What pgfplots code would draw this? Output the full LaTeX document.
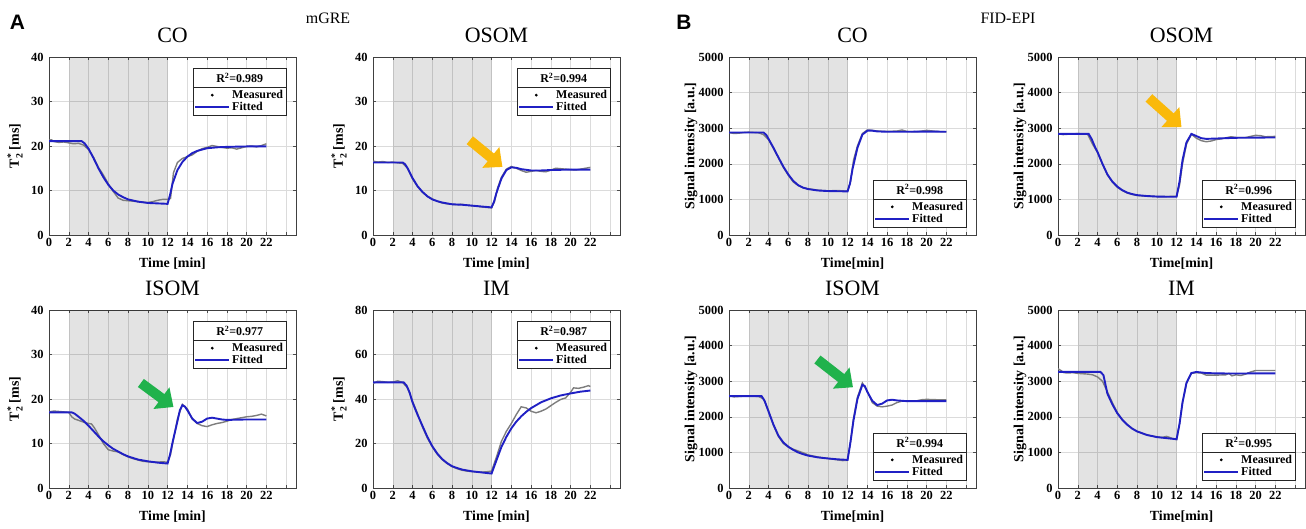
\documentclass[border=0pt]{standalone}
\usepackage{pgfplots}
\pgfplotsset{compat=1.18}
\usepackage{fontspec}
\usepackage{amsmath}
\setmainfont{Liberation Serif}
\newfontfamily\panelfont{Liberation Sans}
\usetikzlibrary{calc,arrows.meta}

\definecolor{fitblue}{RGB}{32,32,196}
\definecolor{measgray}{RGB}{125,125,125}
\definecolor{arrorange}{RGB}{250,185,10}
\definecolor{arrgreen}{RGB}{32,178,76}

\pgfplotsset{
  panel/.style={
    scale only axis, width=247bp, height=178bp,
    xmin=0, xmax=25, ymin=0,
    xtick={0,2,...,24},
    xticklabels={0,2,4,6,8,10,12,14,16,18,20,22,{}},
    grid=major, major grid style={line width=0.5bp, color=black!14},
    tick align=inside, major tick length=3bp,
    tick style={line width=0.5bp, color=black!70},
    axis line style={line width=0.7bp, color=black!75},
    tick label style={font=\bfseries\fontsize{12.5}{12.5}\selectfont},
    yticklabel style={xshift=-2bp},
    /pgf/number format/assume math mode=true,
    /pgf/number format/1000 sep={},
    scaled y ticks=false,
    label style={font=\bfseries\fontsize{14}{14}\selectfont},
    xlabel style={at={(axis description cs:0.5,0)}, anchor=center, yshift=-29bp},
    title style={font=\fontsize{22}{22}\selectfont, at={(axis description cs:0.5,1)}, anchor=base, yshift=9bp},
    legend cell align=left,
    legend style={draw=black!85, line width=0.6bp, fill=white,
      font=\bfseries\fontsize{12}{12}\selectfont, inner sep=1bp, outer sep=0pt, row sep=-1.5bp},
  },
  mgre/.style={panel, ymax=40, ytick={0,10,...,40}, xlabel={Time [min]},
    ylabel={T$_{\text{2}}^{\text{*}}$ [ms]},
    ylabel style={at={(axis description cs:-0.138,0.5)}, anchor=center}},
  fid/.style={panel, ymax=5000, ytick={0,1000,...,5000}, xlabel={Time[min]},
    ylabel={Signal intensity [a.u.]},
    ylabel style={at={(axis description cs:-0.154,0.5)}, anchor=center}},
  legtop/.style={legend style={at={(axis description cs:0.96,0.83)}, anchor=north east, name=#1}},
  legbot/.style={legend style={at={(axis description cs:0.96,0.045)}, anchor=south east, name=#1}},
  meas/.style={color=measgray, line width=1.4bp, forget plot},
  fit/.style={color=fitblue, line width=1.9bp,
    legend image code/.code={\draw[fitblue, line width=1.9bp] (0bp,0bp) -- (34bp,0bp);}},
  shade/.style={draw=none, fill=black, fill opacity=0.11, forget plot},
}

\newcommand\measlegend{\addlegendimage{legend image code/.code={\fill[black] (17bp,0bp) circle (1.1bp);}}\addlegendentry{Measured}}
\newcommand\rbox[2]{\path let \p1=($(#1.north east)-(#1.north west)$) in
  node[draw=black!85, line width=0.6bp, fill=white, anchor=south west, minimum width=\x1,
    minimum height=19bp, inner sep=0pt, outer sep=0pt,
    font=\bfseries\fontsize{12}{12}\selectfont] at (#1.north west) {R\textsuperscript{2}=#2};}

\begin{document}
\begin{tikzpicture}
\useasboundingbox (0,0) rectangle (1306bp,-529bp);

% ---------- A: mGRE ----------
\begin{axis}[mgre, legtop=L1, at={(49bp,-57bp)}, anchor=north west, title={CO}]
\addplot[shade] coordinates {(2,40) (12,40)} \closedcycle;
\addplot[meas] coordinates {(0,21.3)(0.25,21.4)(0.5,21.0)(1,20.8)(1.5,20.9)(2,20.7)(2.5,20.5)(3,20.6)(3.5,20.2)(4,19.2)(4.5,17.5)(5,15.2)(5.5,13.5)(6,11.5)(6.5,9.8)(7,8.3)(7.5,7.8)(8,7.7)(8.5,7.6)(9,7.5)(9.5,7.4)(10,7.3)(10.5,7.5)(11,7.8)(11.5,8.0)(12,8.0)(12.3,8.2)(12.6,14.0)(13,16.3)(13.5,17.2)(14,17.6)(14.5,18.0)(15,18.8)(15.5,19.4)(16,19.7)(16.5,20.1)(17,19.9)(17.5,19.7)(18,19.5)(18.5,19.6)(19,19.3)(19.5,19.6)(20,19.9)(20.5,20.0)(21,19.8)(21.5,20.1)(22,20.5)};
\measlegend
\addplot[fit] coordinates {(0,21.1)(3.3,21.1)(3.6,20.6)(4,19.4)(4.5,17.3)(5,15.0)(5.5,13.0)(6,11.3)(6.5,10.0)(7,9.1)(7.5,8.5)(8,8.0)(9,7.5)(10,7.2)(11,7.1)(12,7.0)(12.25,9.0)(12.5,11.5)(13,14.6)(13.5,16.4)(14,17.6)(14.5,18.4)(15,18.9)(16,19.5)(17,19.7)(18,19.8)(20,19.9)(22,19.9)};
\addlegendentry{Fitted}
\end{axis}
\rbox{L1}{0.989}

\begin{axis}[mgre, legtop=L2, at={(373bp,-57bp)}, anchor=north west, title={OSOM}]
\addplot[shade] coordinates {(2,40) (12,40)} \closedcycle;
\addplot[meas] coordinates {(0,16.6)(0.5,16.4)(1,16.5)(1.5,16.3)(2,16.4)(2.5,16.2)(3,16.1)(3.5,15.0)(4,12.6)(4.5,10.9)(5,9.6)(5.5,8.7)(6,8.1)(6.5,7.6)(7,7.2)(7.5,7.0)(8,6.9)(8.5,6.8)(9,6.9)(9.5,6.7)(10,6.6)(10.5,6.5)(11,6.3)(11.5,6.2)(12,6.1)(12.3,7.5)(12.6,10.5)(13,13.0)(13.5,14.8)(14,15.4)(14.5,15.0)(15,14.5)(15.5,14.1)(16,14.3)(16.5,14.5)(17,14.3)(17.5,14.2)(18,14.6)(18.5,15.0)(19,14.9)(19.5,14.8)(20,14.7)(20.5,14.6)(21,14.8)(21.5,15.0)(22,15.2)};
\measlegend
\addplot[fit] coordinates {(0,16.3)(3.0,16.3)(3.25,15.9)(3.5,15.0)(4,12.8)(4.5,11.0)(5,9.7)(5.5,8.7)(6,8.0)(6.5,7.6)(7,7.3)(8,6.9)(9,6.8)(10,6.6)(11,6.4)(12,6.2)(12.25,7.5)(12.5,9.5)(13,12.7)(13.5,14.6)(14,15.2)(14.5,15.1)(15,14.8)(16,14.5)(17,14.5)(18,14.6)(20,14.7)(22,14.7)};
\addlegendentry{Fitted}
\draw[arrorange, line width=10bp, -{Triangle[length=15bp, width=26bp]}] (axis cs:9.8,21.3) -- (axis cs:13.1,15.3);
\end{axis}
\rbox{L2}{0.994}

\begin{axis}[mgre, legtop=L3, at={(49bp,-310bp)}, anchor=north west, title={ISOM}]
\addplot[shade] coordinates {(2,40) (12,40)} \closedcycle;
\addplot[meas] coordinates {(0,17.1)(0.5,17.3)(1,17.2)(1.5,17.1)(2,17.0)(2.3,16.0)(2.6,15.5)(3,15.2)(3.5,14.8)(4,14.5)(4.3,14.4)(4.6,13.5)(5,12.0)(5.5,10.0)(6,8.6)(6.5,8.3)(7,8.1)(7.5,7.5)(8,7.0)(8.5,6.6)(9,6.3)(9.5,6.0)(10,5.9)(10.5,5.8)(11,5.8)(11.5,5.9)(12,5.8)(12.3,7.5)(12.6,11.0)(13,15.5)(13.5,18.8)(14,17.8)(14.5,15.5)(15,14.5)(15.5,14.0)(16,13.8)(16.5,14.2)(17,14.5)(17.5,14.7)(18,15.0)(18.5,15.4)(19,15.6)(19.5,15.8)(20,16.0)(20.5,16.1)(21,16.3)(21.5,16.6)(22,16.2)};
\measlegend
\addplot[fit] coordinates {(0,17.0)(2.3,17.0)(2.6,16.7)(3,16.0)(3.5,15.1)(4,14.0)(4.5,12.8)(5,11.6)(5.5,10.5)(6,9.6)(6.5,8.8)(7,8.2)(7.5,7.6)(8,7.1)(9,6.4)(10,6.0)(11,5.7)(12,5.5)(12.25,7.5)(12.5,10.2)(13,15.0)(13.25,17.5)(13.5,18.6)(13.75,18.3)(14,17.5)(14.5,15.6)(15,14.6)(15.5,14.9)(16,15.6)(16.5,15.8)(17,15.6)(17.5,15.4)(18,15.3)(20,15.4)(22,15.4)};
\addlegendentry{Fitted}
\draw[arrgreen, line width=10bp, -{Triangle[length=15bp, width=26bp]}] (axis cs:9.3,23.6) -- (axis cs:12.6,18.2);
\end{axis}
\rbox{L3}{0.977}

\begin{axis}[mgre, ymax=80, ytick={0,20,...,80}, legtop=L4, at={(373bp,-310bp)}, anchor=north west, title={IM}]
\addplot[shade] coordinates {(2,80) (12,80)} \closedcycle;
\addplot[meas] coordinates {(0,47)(0.5,48)(1,47.8)(1.5,47.5)(2,47.6)(2.5,48.2)(3,47.4)(3.5,45)(4,39)(4.5,33.5)(5,27.5)(5.5,22.5)(6,18.5)(6.5,15.2)(7,12.8)(7.5,11)(8,9.6)(8.5,8.7)(9,8.0)(9.5,7.6)(10,7.4)(10.5,7.2)(11,7.1)(11.5,7.3)(12,7.6)(12.5,14)(13,21)(13.5,25.5)(14,29)(14.5,33)(15,36.5)(15.5,36)(16,34.5)(16.5,33.8)(17,34.5)(17.5,35.5)(18,37)(18.5,38.5)(19,39.8)(19.5,40.5)(20,43)(20.3,45)(20.8,44.8)(21.3,45.3)(21.8,46)(22,45.6)};
\measlegend
\addplot[fit] coordinates {(0,47.5)(3.1,47.5)(3.4,46)(3.7,43)(4,38.5)(4.5,33)(5,28)(5.5,23)(6,18.8)(6.5,15.5)(7,13)(7.5,11.2)(8,9.8)(8.5,9.0)(9,8.3)(10,7.5)(11,7.0)(12,6.5)(12.5,12.5)(13,18.5)(13.5,23)(14,26.8)(14.5,29.8)(15,32.2)(15.5,34.2)(16,35.9)(17,38.5)(18,40.3)(19,41.6)(20,42.5)(21,43.3)(22,43.8)};
\addlegendentry{Fitted}
\end{axis}
\rbox{L4}{0.987}

% ---------- B: FID-EPI ----------
\begin{axis}[fid, legbot=L5, at={(729bp,-57bp)}, anchor=north west, title={CO}]
\addplot[shade] coordinates {(2,5000) (12,5000)} \closedcycle;
\addplot[meas] coordinates {(0,2880)(0.5,2850)(1,2860)(1.5,2880)(2,2890)(2.5,2880)(3,2870)(3.5,2820)(4,2680)(4.5,2430)(5,2170)(5.5,1900)(6,1680)(6.5,1490)(7,1390)(7.5,1330)(8,1300)(9,1260)(10,1240)(11,1250)(11.5,1240)(12,1230)(12.3,1500)(12.6,2100)(13,2500)(13.5,2850)(14,2950)(14.5,2940)(15,2920)(16,2910)(17,2920)(17.5,2950)(18,2910)(19,2900)(20,2940)(21,2910)(22,2900)};
\measlegend
\addplot[fit] coordinates {(0,2880)(3.5,2880)(3.8,2800)(4,2700)(4.5,2450)(5,2180)(5.5,1920)(6,1700)(6.5,1520)(7,1400)(7.5,1330)(8,1290)(9,1250)(10,1235)(11,1230)(12,1225)(12.25,1450)(12.5,1850)(13,2450)(13.5,2820)(14,2930)(14.5,2930)(15,2910)(16,2900)(18,2900)(20,2905)(22,2900)};
\addlegendentry{Fitted}
\end{axis}
\rbox{L5}{0.998}

\begin{axis}[fid, legbot=L6, at={(1058bp,-57bp)}, anchor=north west, title={OSOM}]
\addplot[shade] coordinates {(2,5000) (12,5000)} \closedcycle;
\addplot[meas] coordinates {(0,2850)(0.5,2820)(1,2830)(1.5,2840)(2,2850)(2.5,2840)(3,2830)(3.5,2550)(4,2320)(4.5,1990)(5,1690)(5.5,1490)(6,1340)(6.5,1250)(7,1180)(7.5,1140)(8,1110)(9,1090)(10,1080)(11,1080)(12,1090)(12.3,1400)(12.6,2000)(13,2550)(13.5,2830)(14,2720)(14.5,2650)(15,2620)(15.5,2640)(16,2680)(16.5,2700)(17,2730)(17.5,2760)(18,2740)(19,2740)(20,2800)(20.5,2790)(21,2760)(22,2770)};
\measlegend
\addplot[fit] coordinates {(0,2840)(3.1,2840)(3.4,2700)(3.7,2500)(4,2330)(4.5,2000)(5,1700)(5.5,1500)(6,1360)(6.5,1260)(7,1190)(7.5,1150)(8,1120)(9,1095)(10,1080)(11,1075)(12,1075)(12.3,1500)(12.6,2100)(13,2600)(13.5,2840)(14,2780)(14.5,2720)(15,2700)(16,2710)(17,2720)(18,2730)(20,2735)(22,2740)};
\addlegendentry{Fitted}
\draw[arrorange, line width=10bp, -{Triangle[length=15bp, width=26bp]}] (axis cs:9.2,3850) -- (axis cs:12.5,3030);
\end{axis}
\rbox{L6}{0.996}

\begin{axis}[fid, legbot=L7, at={(729bp,-310bp)}, anchor=north west, title={ISOM}]
\addplot[shade] coordinates {(2,5000) (12,5000)} \closedcycle;
\addplot[meas] coordinates {(0,2600)(0.5,2560)(1,2570)(1.5,2580)(2,2590)(2.5,2580)(3,2570)(3.5,2500)(4,2170)(4.5,1760)(5,1450)(5.5,1250)(6,1150)(6.5,1090)(7,1040)(7.5,990)(8,930)(9,870)(10,830)(11,790)(11.5,770)(12,780)(12.3,1300)(12.6,1950)(13,2550)(13.5,2950)(14,2720)(14.5,2400)(15,2300)(15.5,2280)(16,2300)(16.5,2330)(17,2400)(17.5,2440)(18,2450)(19,2450)(19.5,2480)(20,2490)(21,2480)(22,2480)};
\measlegend
\addplot[fit] coordinates {(0,2580)(3.3,2580)(3.6,2450)(4,2150)(4.5,1780)(5,1470)(5.5,1280)(6,1160)(6.5,1070)(7,1000)(7.5,950)(8,910)(9,860)(10,830)(11,805)(12,790)(12.3,1300)(12.6,1900)(13,2500)(13.5,2900)(13.75,2860)(14,2700)(14.5,2450)(15,2330)(15.5,2370)(16,2460)(16.5,2480)(17,2460)(18,2440)(20,2440)(22,2440)};
\addlegendentry{Fitted}
\draw[arrgreen, line width=10bp, -{Triangle[length=15bp, width=26bp]}] (axis cs:8.95,3610) -- (axis cs:12.55,2830);
\end{axis}
\rbox{L7}{0.994}

\begin{axis}[fid, legbot=L8, at={(1058bp,-310bp)}, anchor=north west, title={IM}]
\addplot[shade] coordinates {(2,5000) (12,5000)} \closedcycle;
\addplot[meas] coordinates {(0,3350)(0.3,3300)(0.6,3240)(1,3230)(1.5,3240)(2,3220)(2.5,3210)(3,3200)(3.5,3180)(4,3120)(4.5,3000)(5,2700)(5.5,2400)(6,2120)(6.5,1920)(7,1780)(7.5,1670)(8,1590)(8.5,1540)(9,1490)(9.5,1460)(10,1440)(10.5,1420)(11,1450)(11.5,1400)(12,1360)(12.3,1800)(12.6,2400)(13,2950)(13.5,3220)(14,3240)(14.5,3230)(15,3170)(16,3170)(17,3180)(17.3,3220)(17.6,3150)(18,3180)(18.5,3160)(19,3200)(19.5,3260)(20,3300)(21,3300)(22,3300)};
\measlegend
\addplot[fit] coordinates {(0,3260)(4.3,3260)(4.6,3170)(5,2650)(5.5,2350)(6,2100)(6.5,1920)(7,1780)(7.5,1670)(8,1590)(9,1490)(10,1430)(11,1400)(12,1370)(12.3,1800)(12.6,2400)(13,2950)(13.5,3230)(14,3260)(15,3230)(16,3220)(18,3215)(20,3220)(22,3220)};
\addlegendentry{Fitted}
\end{axis}
\rbox{L8}{0.995}

% panel letters and group titles
\node[font=\panelfont\bfseries\fontsize{21}{21}\selectfont] at (17.5bp,-22.5bp) {A};
\node[font=\panelfont\bfseries\fontsize{21}{21}\selectfont] at (684bp,-22.5bp) {B};
\node[font=\fontsize{16}{16}\selectfont, anchor=base] at (328bp,-23bp) {mGRE};
\node[font=\fontsize{16}{16}\selectfont, anchor=base] at (1008bp,-23bp) {FID-EPI};
\end{tikzpicture}
\end{document}
